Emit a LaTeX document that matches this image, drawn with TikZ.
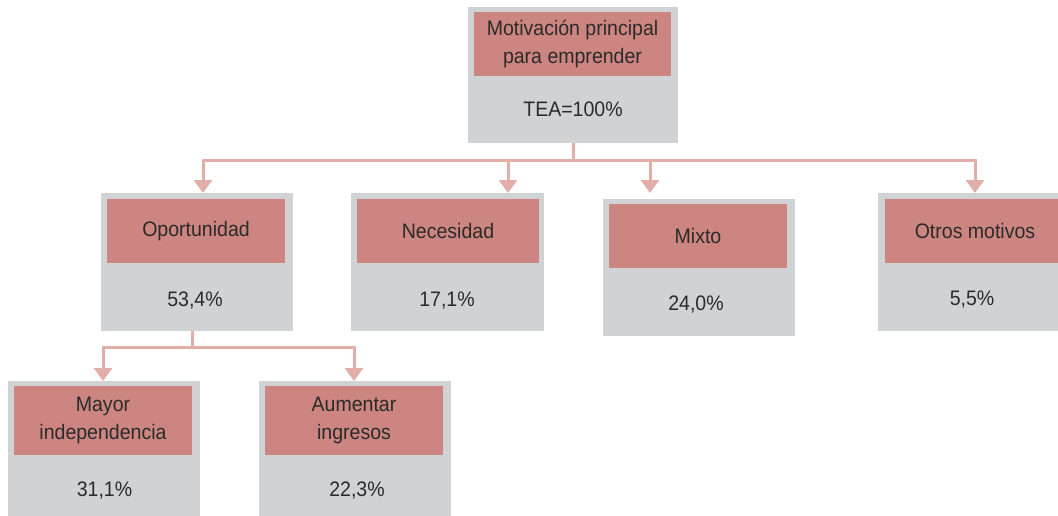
\documentclass[tikz,border=0pt]{standalone}
\usepackage{fontspec}
\setmainfont{Liberation Sans}[FakeStretch=0.93]
\usetikzlibrary{arrows.meta}
\definecolor{boxgray}{HTML}{D1D2D4}
\definecolor{boxred}{HTML}{CC8580}
\definecolor{linkc}{HTML}{E2AFA8}
\definecolor{txt}{HTML}{2B2B2B}
\begin{document}
\begin{tikzpicture}[x=1pt,y=-1pt,
  font=\fontsize{21}{28}\selectfont, text=txt,
  graybox/.style={fill=boxgray, draw=none, inner sep=0pt, outer sep=0pt},
  redbox/.style={fill=boxred, draw=none, inner sep=0pt, outer sep=0pt, align=center},
  valtext/.style={anchor=base, inner sep=0pt},
  link/.style={draw=linkc, line width=3pt},
  arr/.style={link, -{Triangle[width=18pt,length=13pt]}}]
\useasboundingbox (0,0) rectangle (1058,515);

% boxes
\node[graybox, minimum width=210pt, minimum height=136pt] (topg) at (573,75) {};
\node[redbox, minimum width=197pt, minimum height=64pt] (topr) at (572.5,44) {Motivación principal\\para emprender};
\node[valtext] (topv) at (573,116) {TEA=100\%};

\node[graybox, minimum width=192pt, minimum height=138pt] (opog) at (197,262) {};
\node[redbox, minimum width=178pt, minimum height=64pt] (opor) at (196,231) {Oportunidad};
\node[valtext] (opov) at (195,306) {53,4\%};

\node[graybox, minimum width=193pt, minimum height=138pt] (necg) at (447.5,262) {};
\node[redbox, minimum width=182pt, minimum height=64pt] (necr) at (448,231) {Necesidad};
\node[valtext] (necv) at (447,306) {17,1\%};

\node[graybox, minimum width=192pt, minimum height=137pt] (mixg) at (699,267.5) {};
\node[redbox, minimum width=178pt, minimum height=64pt] (mixr) at (698,236) {Mixto};
\node[valtext] (mixv) at (696,310) {24,0\%};

\node[graybox, minimum width=194pt, minimum height=138pt] (otrg) at (975,262) {};
\node[redbox, minimum width=180pt, minimum height=64pt] (otrr) at (975,231) {Otros motivos};
\node[valtext] (otrv) at (972,305) {5,5\%};

\node[graybox, minimum width=192pt, minimum height=138pt] (mayg) at (104,450) {};
\node[redbox, minimum width=178pt, minimum height=69pt] (mayr) at (103,420.5) {Mayor\\independencia};
\node[valtext] (mayv) at (104.5,496) {31,1\%};

\node[graybox, minimum width=192pt, minimum height=138pt] (aumg) at (355,450) {};
\node[redbox, minimum width=178pt, minimum height=69pt] (aumr) at (354,420.5) {Aumentar\\ingresos};
\node[valtext] (aumv) at (357,496) {22,3\%};

% connectors, first level
\coordinate (b1) at (203,160);
\coordinate (b2) at (508,160);
\coordinate (b3) at (650,160);
\coordinate (b4) at (975,160);
\coordinate (bus) at (topg.south |- b1);
\draw[link] (topg.south) -- (bus);
\draw[link, line cap=rect] (b1) -- (b4);
\draw[arr] (b1) -- (b1 |- opog.north);
\draw[arr] (b2) -- (b2 |- necg.north);
\draw[arr] (b3) -- (b3 |- otrg.north);
\draw[arr] (b4) -- (b4 |- otrg.north);

% connectors, second level
\coordinate (sb) at (192,347);
\coordinate (s1) at (103,347);
\coordinate (s2) at (354,347);
\draw[link] (sb |- opog.south) -- (sb);
\draw[link, line cap=rect] (s1) -- (s2);
\draw[arr] (s1) -- (s1 |- mayg.north);
\draw[arr] (s2) -- (s2 |- aumg.north);
\end{tikzpicture}
\end{document}
